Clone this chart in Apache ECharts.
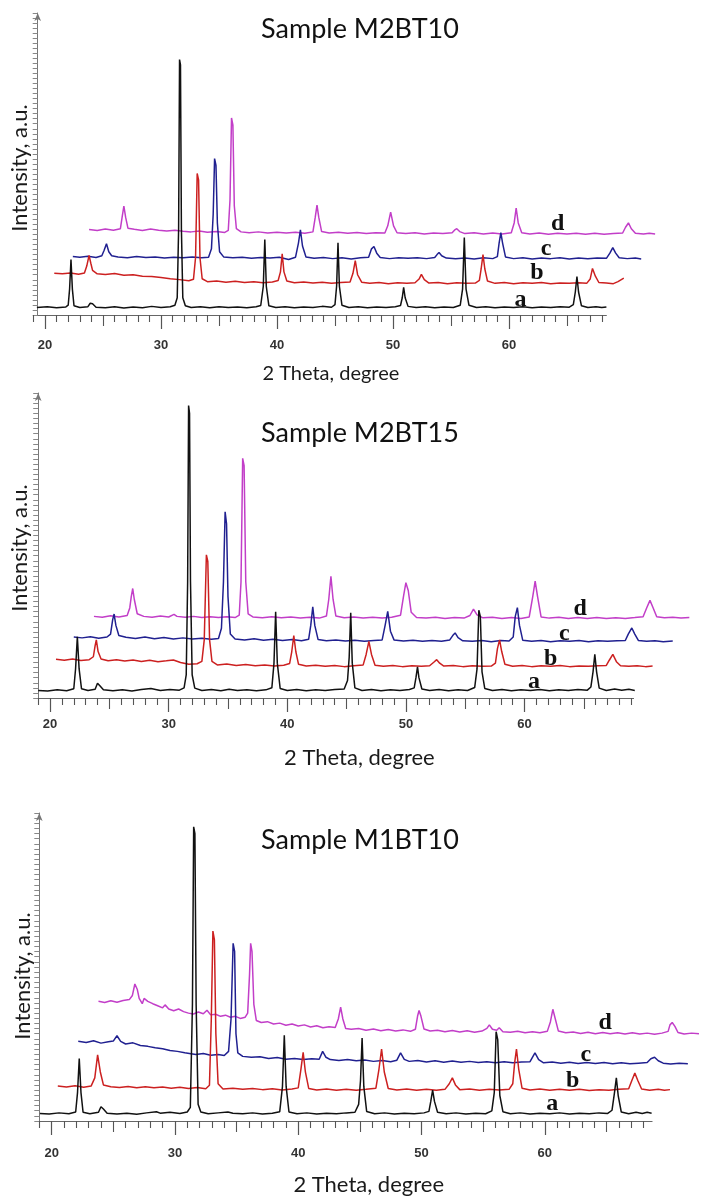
<!DOCTYPE html>
<html><head><meta charset="utf-8">
<script src="https://cdn.jsdelivr.net/npm/echarts@6/dist/echarts.min.js"></script>
<style>html,body{margin:0;padding:0;background:#fff}#c{width:702px;height:1197px}</style>
</head><body><div id="c"></div>
<script>
// ---------- data (2θ in degrees as plotted, intensity in arbitrary units) ----------
const panelTitles = ['Sample M2BT10', 'Sample M2BT15', 'Sample M1BT10'];
const traceNames = ['a', 'b', 'c', 'd'];
const xTickLabels = [20, 30, 40, 50, 60];
const xMidTicks = [25, 35, 45, 55, 65];

// Panel 1 : M2BT10
const m2bt10_a = [[19.3,2.6],[20.2,2.9],[21.0,2.5],[21.8,2.8],[22.0,3.4],[22.12,9],[22.24,19.3],[22.36,9],[22.5,3.2],[23.0,2.6],[23.7,2.9],[23.9,4.1],[24.1,3.9],[24.4,2.7],[25.2,2.5],[26.0,2.9],[26.8,2.4],[27.6,2.8],[28.4,2.5],[29.2,3.0],[30.0,2.6],[30.8,2.9],[31.2,3.4],[31.4,6],[31.52,30],[31.6,88.8],[31.68,87],[31.76,30],[31.88,6],[32.1,3.2],[32.6,2.6],[33.4,2.9],[34.2,2.5],[35.0,2.9],[35.8,2.6],[36.6,2.8],[37.4,2.5],[38.2,2.9],[38.6,3.3],[38.82,10],[38.95,26.2],[39.08,10],[39.3,3.2],[39.9,2.6],[40.7,2.9],[41.5,2.5],[42.3,2.8],[43.1,2.6],[43.9,3.0],[44.7,2.7],[45.0,3.6],[45.14,10],[45.26,25.1],[45.38,10],[45.6,3.4],[46.2,2.6],[47.0,2.9],[47.8,2.5],[48.6,2.8],[49.4,2.6],[50.2,2.9],[50.65,3.3],[50.8,6],[50.92,9.6],[51.05,6],[51.3,3.0],[52.0,2.6],[52.8,2.9],[53.6,2.5],[54.4,2.8],[55.2,2.6],[55.8,3.4],[56.0,9],[56.15,26.9],[56.3,9],[56.55,3.4],[57.2,2.6],[58.0,2.9],[58.8,2.5],[59.6,2.8],[60.4,2.6],[61.2,2.9],[62.0,2.5],[62.8,2.8],[63.6,2.6],[64.4,2.9],[65.2,2.7],[65.55,3.6],[65.72,8],[65.86,13.4],[66.0,8],[66.25,3.2],[66.8,2.6],[67.5,2.9],[68.0,2.6],[68.4,2.8]];
const m2bt10_b = [[20.8,14.5],[21.5,14.3],[22.2,14.6],[22.9,14.2],[23.4,14.6],[23.6,17],[23.8,20.7],[23.95,18],[24.1,15.5],[24.5,14.3],[25.2,14.1],[26.0,14.4],[26.8,13.8],[27.6,14.0],[28.4,13.5],[29.2,13.4],[30.0,13.0],[30.8,12.6],[31.6,12.3],[32.4,11.9],[32.8,12.4],[32.98,20],[33.12,49.2],[33.24,47],[33.36,20],[33.55,12.6],[34.0,11.6],[34.8,11.8],[35.6,11.4],[36.4,11.7],[37.2,11.3],[38.0,11.6],[38.8,11.2],[39.6,11.5],[40.1,12.0],[40.3,15],[40.45,21.3],[40.6,15],[40.85,11.8],[41.5,11.2],[42.3,11.5],[43.1,11.1],[43.9,11.4],[44.7,11.0],[45.5,11.3],[46.3,11.5],[46.55,14.5],[46.75,18.9],[46.95,14],[47.3,11.4],[48.0,11.0],[48.8,11.3],[49.6,10.9],[50.4,11.2],[51.2,11.0],[51.9,11.2],[52.25,12.5],[52.45,14.1],[52.7,12.3],[53.1,11.1],[53.9,11.3],[54.7,10.9],[55.5,11.2],[56.3,11.0],[57.1,11.1],[57.45,12],[57.6,16],[57.76,21],[57.92,16],[58.15,11.8],[58.8,11.0],[59.6,11.3],[60.4,10.9],[61.2,11.2],[62.0,11.0],[62.8,11.3],[63.6,10.9],[64.4,11.1],[65.2,11.0],[66.0,11.2],[66.7,11.0],[67.0,12.5],[67.2,16.2],[67.45,13.5],[67.75,11.3],[68.4,11.1],[69.0,10.9],[69.4,11.6],[69.9,12.8]];
const m2bt10_c = [[22.4,20.3],[23.0,20.1],[23.7,20.4],[24.4,20.0],[24.9,20.6],[25.1,22.5],[25.3,24.8],[25.5,22],[25.75,20.6],[26.3,20.2],[27.1,19.9],[27.9,20.3],[28.7,20.0],[29.5,20.2],[30.3,19.8],[31.1,20.1],[31.9,19.9],[32.7,20.2],[33.5,19.9],[34.1,20.1],[34.35,23],[34.5,35],[34.62,54.4],[34.74,52],[34.86,32],[35.05,22],[35.4,20.2],[36.2,19.9],[37.0,20.1],[37.8,19.7],[38.6,20.0],[39.4,19.8],[40.2,20.1],[41.0,19.3],[41.6,20.1],[41.85,25],[42.02,29.6],[42.2,24],[42.5,20.2],[43.2,19.7],[44.0,20.0],[44.8,19.6],[45.6,19.9],[46.4,19.5],[47.2,19.9],[47.9,20.1],[48.15,23],[48.36,23.8],[48.6,21.5],[48.9,20.0],[49.7,19.6],[50.5,19.9],[51.3,19.7],[52.1,19.9],[52.9,19.6],[53.6,20.0],[53.8,21],[53.97,21.7],[54.2,20.6],[54.6,19.8],[55.4,19.6],[56.2,19.8],[57.0,19.5],[57.8,19.9],[58.6,19.6],[59.0,20.3],[59.15,25],[59.3,28.6],[59.45,25],[59.7,20.2],[60.4,19.6],[61.2,19.9],[62.0,19.5],[62.8,19.8],[63.6,19.6],[64.4,19.9],[65.2,19.5],[66.0,19.8],[66.8,19.6],[67.6,19.8],[68.4,19.7],[68.7,21.5],[68.95,23.4],[69.2,21.5],[69.5,19.9],[70.2,19.6],[70.9,19.8],[71.4,19.5]];
const m2bt10_d = [[23.8,29.7],[24.5,29.4],[25.2,29.9],[25.9,29.5],[26.5,30.0],[26.65,34],[26.8,37.9],[26.95,34],[27.15,30.2],[27.7,29.8],[28.4,29.4],[29.1,29.9],[29.8,29.5],[30.5,29.2],[31.2,29.5],[31.9,29.1],[32.6,28.9],[33.3,29.2],[34.0,28.8],[34.8,29.0],[35.5,28.7],[35.8,29.4],[35.95,40],[36.08,68.5],[36.2,66],[36.32,38],[36.5,30],[36.9,28.9],[37.6,28.6],[38.4,28.9],[39.2,28.5],[40.0,28.8],[40.8,28.5],[41.6,28.8],[42.4,28.4],[43.1,28.9],[43.3,34],[43.45,38.2],[43.6,34],[43.85,29.0],[44.5,28.5],[45.3,28.8],[46.1,28.4],[46.9,28.7],[47.7,28.3],[48.5,28.6],[49.3,28.5],[49.55,31],[49.8,35.8],[50.05,31],[50.35,28.6],[51.1,28.3],[51.9,28.6],[52.7,28.2],[53.5,28.5],[54.3,28.3],[55.1,28.6],[55.3,29.5],[55.5,30.0],[55.75,29.0],[56.2,28.3],[57.0,28.6],[57.8,28.2],[58.6,28.5],[59.4,28.2],[60.2,28.6],[60.45,32],[60.62,37.2],[60.8,32],[61.1,28.6],[61.8,28.2],[62.6,28.5],[63.4,28.1],[64.2,28.4],[65.0,28.2],[65.8,28.4],[66.6,28.1],[67.4,28.4],[68.2,28.1],[69.0,28.3],[69.8,28.5],[70.05,30.5],[70.3,32],[70.55,30],[70.9,28.4],[71.6,28.2],[72.1,28.4],[72.6,28.2]];

// Panel 2 : M2BT15
const m2bt15_a = [[19.0,2.6],[19.8,2.4],[20.6,2.8],[21.4,2.5],[22.0,3.2],[22.15,10],[22.3,21.1],[22.45,10],[22.65,3.2],[23.2,2.6],[23.8,3.0],[24.0,5.1],[24.2,4.2],[24.5,2.8],[25.3,2.5],[26.1,2.8],[26.9,2.4],[27.7,2.9],[28.5,3.3],[29.3,2.6],[30.1,2.9],[30.9,2.7],[31.3,3.5],[31.48,8],[31.6,40],[31.68,100.7],[31.76,98],[31.84,40],[31.98,8],[32.2,3.4],[32.8,2.6],[33.6,2.9],[34.4,2.5],[35.1,3.0],[35.8,2.6],[36.6,2.8],[37.4,2.5],[38.2,2.8],[38.7,3.5],[38.88,12],[39.02,29.7],[39.16,12],[39.4,3.3],[40.0,2.6],[40.8,2.9],[41.6,2.5],[42.4,2.8],[43.2,2.6],[44.0,2.9],[44.8,3.1],[45.08,6],[45.22,14],[45.35,29.3],[45.48,12],[45.7,3.5],[46.3,2.6],[47.1,2.9],[47.9,2.5],[48.7,2.8],[49.5,2.6],[50.3,2.9],[50.7,3.5],[50.85,7],[50.98,10.7],[51.1,7],[51.35,3.1],[52.0,2.6],[52.8,2.9],[53.6,2.5],[54.4,2.8],[55.2,2.6],[55.8,3.6],[56.0,10],[56.15,30.2],[56.28,28],[56.42,9],[56.65,3.3],[57.3,2.6],[58.1,2.9],[58.9,2.5],[59.7,2.8],[60.5,2.6],[61.3,2.9],[62.1,2.5],[62.9,2.8],[63.7,2.6],[64.5,2.9],[65.3,2.7],[65.6,3.8],[65.78,9],[65.93,15],[66.08,9],[66.3,3.4],[66.9,2.6],[67.6,3.1],[68.2,2.7],[68.8,3.0],[69.3,2.6]];
const m2bt15_b = [[20.5,13.3],[21.2,13.0],[21.9,13.4],[22.6,12.9],[23.3,13.2],[23.65,14.2],[23.8,18],[23.9,20],[24.05,16],[24.3,13.4],[24.9,12.8],[25.6,13.2],[26.3,12.7],[27.0,13.1],[27.7,12.6],[28.4,13.0],[29.1,12.5],[29.8,12.8],[30.4,13.1],[31.0,12.2],[31.7,11.6],[32.4,11.8],[32.8,12.6],[33.0,20],[33.18,49.3],[33.3,47],[33.45,20],[33.65,12.6],[34.1,11.4],[34.9,11.7],[35.7,11.2],[36.5,11.5],[37.3,11.1],[38.1,11.4],[38.9,11.0],[39.7,11.3],[40.2,11.9],[40.38,16],[40.55,21.5],[40.72,16],[40.95,11.6],[41.6,11.0],[42.4,11.3],[43.2,10.9],[44.0,11.2],[44.8,10.8],[45.6,11.1],[46.4,11.4],[46.65,15],[46.88,19.5],[47.1,15],[47.4,11.3],[48.1,10.9],[48.9,11.2],[49.7,10.8],[50.5,11.1],[51.3,10.9],[52.0,11.1],[52.35,12.3],[52.6,13.2],[52.85,12],[53.2,11.0],[54.0,11.2],[54.8,10.8],[55.6,11.1],[56.4,10.9],[57.2,11.0],[57.55,12],[57.72,17],[57.9,20],[58.08,16],[58.35,11.6],[59.0,10.9],[59.8,11.2],[60.6,10.8],[61.4,11.1],[62.2,10.9],[63.0,11.2],[63.8,10.8],[64.6,11.0],[65.4,10.9],[66.2,11.1],[66.9,11.2],[67.15,13],[67.45,15],[67.75,12.5],[68.1,11.1],[68.8,10.9],[69.5,11.1],[70.2,10.8],[70.8,11.0]];
const m2bt15_c = [[22.0,21.0],[22.7,20.7],[23.4,21.1],[24.1,20.6],[24.8,21.0],[25.1,22],[25.28,27],[25.4,28.9],[25.55,25],[25.8,21.5],[26.4,20.9],[27.2,20.5],[28.0,21.0],[28.8,20.4],[29.6,20.8],[30.4,20.3],[31.2,20.7],[32.0,20.3],[32.8,20.6],[33.6,20.2],[34.2,20.5],[34.45,24],[34.62,40],[34.76,64.1],[34.88,60],[35.0,35],[35.2,22],[35.6,20.3],[36.4,20.0],[37.2,20.4],[38.0,19.9],[38.8,20.2],[39.6,19.8],[40.4,20.1],[41.2,19.7],[41.8,20.2],[41.98,25],[42.15,31.4],[42.32,25],[42.6,20.1],[43.3,19.7],[44.1,20.0],[44.9,19.6],[45.7,19.9],[46.5,19.5],[47.3,19.8],[48.0,20.0],[48.25,25],[48.47,29.8],[48.7,23],[49.0,20.0],[49.8,19.6],[50.6,19.9],[51.4,19.5],[52.2,19.8],[53.0,19.5],[53.7,20.0],[53.95,21.5],[54.15,22.4],[54.4,20.8],[54.8,19.7],[55.6,19.5],[56.4,19.8],[57.2,19.4],[58.0,19.8],[58.7,19.6],[59.05,21],[59.22,28],[59.4,31.1],[59.58,25],[59.85,19.9],[60.6,19.5],[61.4,19.8],[62.2,19.4],[63.0,19.7],[63.8,19.5],[64.6,19.8],[65.4,19.4],[66.2,19.7],[67.0,19.5],[67.8,19.7],[68.5,19.8],[68.75,22],[69.05,24.1],[69.3,22],[69.6,19.8],[70.3,19.5],[71.0,19.7],[71.7,19.4],[72.5,19.6]];
const m2bt15_d = [[23.7,28.1],[24.4,27.8],[25.1,28.3],[25.8,27.9],[26.5,28.4],[26.72,31],[26.85,35],[26.97,37.7],[27.1,34],[27.35,29],[27.9,28.1],[28.6,27.8],[29.3,28.2],[30.0,27.9],[30.45,28.8],[30.7,28.1],[31.4,27.8],[32.1,28.1],[32.8,27.7],[33.5,28.0],[34.2,27.7],[34.9,28.0],[35.6,27.7],[35.95,28.5],[36.1,40],[36.24,82.5],[36.36,80],[36.5,40],[36.7,29],[37.1,27.9],[37.9,27.6],[38.7,28.0],[39.5,27.6],[40.3,27.9],[41.1,27.5],[41.9,27.8],[42.7,27.5],[43.3,28.2],[43.5,34],[43.68,41.9],[43.86,34],[44.1,28.2],[44.8,27.6],[45.6,27.9],[46.4,27.5],[47.2,27.8],[48.0,27.5],[48.8,27.8],[49.55,28.5],[49.8,35],[50.0,39.7],[50.2,37],[50.45,29.5],[50.9,27.7],[51.7,27.5],[52.5,27.8],[53.3,27.4],[54.1,27.7],[54.9,27.5],[55.4,28.4],[55.7,30.6],[56.0,28.6],[56.5,27.6],[57.3,27.8],[58.1,27.4],[58.9,27.7],[59.7,27.4],[60.4,27.9],[60.7,35],[60.9,40.2],[61.1,35],[61.4,27.9],[62.1,27.5],[62.9,27.8],[63.7,27.4],[64.5,27.7],[65.3,27.4],[66.1,27.7],[66.9,27.4],[67.7,27.6],[68.5,27.4],[69.3,27.7],[70.0,28.0],[70.3,31],[70.58,33.6],[70.85,31],[71.15,28.0],[71.8,27.6],[72.5,27.8],[73.2,27.5],[73.9,27.7]];

// Panel 3 : M1BT10
const m1bt10_a = [[19.05,2.9],[19.8,2.7],[20.6,3.1],[21.4,2.8],[21.95,3.4],[22.1,10],[22.24,21.6],[22.38,10],[22.55,3.3],[23.1,2.8],[23.8,3.3],[24.0,5.2],[24.2,4.4],[24.5,3.0],[25.3,2.7],[26.1,3.0],[26.9,2.6],[27.7,3.1],[28.5,3.5],[28.8,3.0],[29.6,3.3],[30.4,2.9],[31.0,3.4],[31.25,5],[31.42,40],[31.52,100.3],[31.62,98],[31.72,40],[31.88,6],[32.1,3.4],[32.7,2.8],[33.5,3.1],[34.3,3.4],[34.7,3.0],[35.5,2.8],[36.3,3.1],[37.1,2.7],[37.9,3.0],[38.5,3.5],[38.72,12],[38.87,29.5],[39.02,12],[39.25,3.4],[39.9,2.8],[40.7,3.1],[41.5,2.7],[42.3,3.0],[43.1,2.8],[43.9,3.1],[44.6,3.3],[44.9,6],[45.05,14],[45.18,28.5],[45.32,12],[45.55,3.6],[46.2,2.8],[47.0,3.1],[47.8,2.7],[48.6,3.0],[49.4,2.8],[50.2,3.1],[50.6,3.6],[50.75,7],[50.9,10.8],[51.05,7],[51.3,3.3],[52.0,2.8],[52.8,3.1],[53.6,2.7],[54.4,3.0],[55.2,2.8],[55.7,3.8],[55.9,10],[56.05,30.7],[56.18,28],[56.35,9],[56.6,3.5],[57.2,2.8],[58.0,3.1],[58.8,2.7],[59.6,3.0],[60.4,2.8],[61.2,3.1],[62.0,2.7],[62.8,3.0],[63.6,2.8],[64.4,3.1],[65.1,2.9],[65.45,4],[65.65,10],[65.8,15],[65.95,9],[66.2,3.4],[66.8,2.8],[67.4,3.3],[67.9,2.9],[68.3,3.3],[68.66,3.0]];
const m1bt10_b = [[20.5,12.2],[21.2,11.9],[21.9,12.3],[22.6,11.8],[23.2,12.2],[23.5,15],[23.73,22.8],[23.95,17],[24.2,12.6],[24.8,12.0],[25.5,11.7],[26.2,12.1],[26.9,11.6],[27.6,12.0],[28.3,11.6],[29.0,11.9],[29.7,11.5],[30.4,11.8],[31.1,11.4],[31.8,11.7],[32.5,11.3],[32.8,12.5],[32.95,35],[33.08,64.9],[33.2,62],[33.32,30],[33.5,13],[33.9,11.2],[34.7,11.5],[35.5,11.1],[36.3,11.4],[37.1,11.0],[37.9,11.3],[38.7,10.9],[39.5,11.2],[40.0,11.6],[40.22,18],[40.4,23.7],[40.58,17],[40.85,11.4],[41.5,10.9],[42.3,11.2],[43.1,10.8],[43.9,11.1],[44.7,10.8],[45.5,11.1],[46.3,11.5],[46.55,18],[46.76,24.8],[46.98,17],[47.3,11.4],[48.0,10.9],[48.8,11.2],[49.6,10.8],[50.4,11.1],[51.2,10.8],[51.9,11.1],[52.25,13],[52.5,15],[52.75,12.6],[53.1,11.0],[53.9,11.2],[54.7,10.8],[55.5,11.1],[56.3,10.9],[57.1,11.1],[57.4,13],[57.55,20],[57.7,24.8],[57.88,18],[58.15,11.5],[58.8,10.9],[59.6,11.2],[60.4,10.8],[61.2,11.1],[62.0,10.8],[62.8,11.1],[63.6,10.7],[64.4,11.0],[65.2,10.8],[66.0,11.1],[66.8,11.3],[67.05,14],[67.3,16.6],[67.55,14],[67.85,11.2],[68.5,10.8],[69.2,11.1],[69.7,10.8],[70.15,11.0]];
const m1bt10_c = [[22.16,27.4],[22.8,27.0],[23.4,27.6],[24.0,26.8],[24.6,27.3],[25.0,27.5],[25.3,29.3],[25.6,27.4],[26.0,26.5],[26.6,26.9],[27.2,26.0],[27.8,25.7],[28.4,25.2],[29.0,24.9],[29.6,24.3],[30.2,24.0],[30.8,23.5],[31.3,23.2],[31.7,22.9],[32.3,23.3],[32.9,22.7],[33.5,22.9],[34.0,22.6],[34.35,24],[34.55,35],[34.72,60.7],[34.84,58],[34.95,30],[35.1,23.5],[35.5,22.3],[36.2,22.0],[36.9,22.2],[37.6,21.6],[38.3,21.9],[39.0,21.3],[39.7,21.6],[40.4,21.2],[41.1,21.5],[41.7,21.3],[41.98,24],[42.25,22],[42.6,21.2],[43.3,20.9],[44.0,21.2],[44.7,20.8],[45.4,21.1],[46.1,20.6],[46.8,20.9],[47.5,20.5],[48.0,21.0],[48.3,23.5],[48.6,21.3],[49.0,20.6],[49.7,20.9],[50.4,20.4],[51.1,20.8],[51.8,20.3],[52.5,20.7],[53.2,20.3],[53.9,20.6],[54.6,20.2],[55.3,20.5],[56.0,20.1],[56.7,20.5],[57.4,20.1],[58.1,20.4],[58.8,20.5],[59.2,23.5],[59.5,21.2],[59.9,20.1],[60.6,20.4],[61.3,20.0],[62.0,20.3],[62.7,19.9],[63.4,20.2],[64.1,19.9],[64.8,20.2],[65.5,19.8],[66.2,20.1],[66.9,19.8],[67.6,20.0],[68.3,20.2],[68.6,21.5],[68.9,22],[69.2,20.8],[69.6,20.0],[70.2,19.7],[70.9,20.0],[71.6,19.8]];
const m1bt10_d = [[23.8,41.0],[24.3,40.6],[24.8,41.2],[25.3,40.7],[25.8,41.3],[26.3,41.6],[26.55,43],[26.75,46.9],[26.95,45],[27.1,42],[27.35,40.2],[27.5,42],[27.8,41],[28.2,40.2],[28.6,39.5],[29.0,38.8],[29.2,39.8],[29.5,38.4],[29.9,37.8],[30.3,38.4],[30.7,37.5],[31.1,37.0],[31.5,36.7],[31.9,37.4],[32.3,36.8],[32.6,38],[32.9,36.4],[33.3,36.6],[33.7,35.9],[34.1,36.3],[34.5,35.6],[34.9,35.9],[35.3,35.2],[35.7,35.6],[35.9,37],[36.05,50],[36.14,60.7],[36.25,58],[36.4,40],[36.6,34.5],[37.0,33.8],[37.5,34.1],[38.0,33.3],[38.5,33.6],[39.0,32.9],[39.5,33.3],[40.0,32.6],[40.5,33.0],[41.0,32.3],[41.5,32.7],[42.0,32.0],[42.5,32.4],[43.0,32.1],[43.25,35],[43.44,39],[43.62,35],[43.85,31.8],[44.3,31.5],[44.9,31.8],[45.5,31.2],[46.1,31.6],[46.7,31.0],[47.3,31.4],[47.9,30.9],[48.5,31.3],[49.1,30.8],[49.5,31.5],[49.68,36],[49.8,37.9],[49.95,36],[50.2,31.6],[50.7,30.9],[51.3,31.2],[51.9,30.7],[52.5,31.1],[53.1,30.6],[53.7,31.0],[54.3,30.5],[54.9,30.9],[55.3,31.8],[55.5,33],[55.75,31.5],[56.1,31.2],[56.3,32],[56.6,30.7],[57.2,30.5],[57.8,30.8],[58.4,30.3],[59.0,30.7],[59.6,30.3],[60.2,30.8],[60.45,34],[60.65,38.3],[60.85,35],[61.1,30.9],[61.7,30.3],[62.3,30.6],[62.9,30.1],[63.5,30.5],[64.1,30.0],[64.7,30.4],[65.3,30.0],[65.9,30.3],[66.5,29.9],[67.1,30.3],[67.7,29.9],[68.3,30.2],[68.9,29.8],[69.5,30.2],[70.0,30.8],[70.15,33],[70.33,33.8],[70.55,32.5],[70.8,30.4],[71.3,29.9],[71.9,30.2],[72.5,30.0]];

// curve-letter annotations: [2θ, intensity] where each letter sits
const m2bt10_letters = [[61.0,5.2],[62.4,14.5],[63.2,23.1],[64.2,31.7]];
const m2bt15_letters = [[60.8,5.5],[62.2,13.6],[63.35,22.2],[64.7,30.7]];
const m1bt10_letters = [[60.6,6.1],[62.25,13.9],[63.33,22.9],[64.9,33.8]];

// ---------- layout & style ----------
const panelData = [
  [m2bt10_a, m2bt10_b, m2bt10_c, m2bt10_d],
  [m2bt15_a, m2bt15_b, m2bt15_c, m2bt15_d],
  [m1bt10_a, m1bt10_b, m1bt10_c, m1bt10_d]
];
const panelLetters = [m2bt10_letters, m2bt15_letters, m1bt10_letters];
const colors = ['#111111', '#cc2020', '#202090', '#c23ec8'];
const layout = [
  {left: 33.4, top: 13, width: 573, height: 302, xmax: 68.4, yOff: -4.3, labMargin: 24, nameGap: 49, nameFs: 20, namePad: 22, yPad: 8, yGap: 7, titleY: 16},
  {left: 38.2, top: 393, width: 595.4, height: 305, xmax: 69.2, yOff: 0, labMargin: 20, nameGap: 49, nameFs: 22, namePad: 47, yPad: 5, yGap: 7, titleY: 420},
  {left: 39.3, top: 813, width: 612.8, height: 309, xmax: 68.7, yOff: 0, labMargin: 26, nameGap: 53, nameFs: 22, namePad: 46, yPad: 18, yGap: 5, titleY: 827}
];
const XMIN = 19, YMAX = 105, PLANE_RIGHT = 701;

const grids = [], xAxes = [], yAxes = [], series = [], graphics = [];
// visible axis frames
layout.forEach((L, p) => {
  grids.push({left: L.left, top: L.top, width: L.width, height: L.height, containLabel: false});
  const minor = [];
  for (let v = XMIN; v <= Math.floor(L.xmax); v++) if (v % 5 !== 0) minor.push(v);
  const base = {gridIndex: p, type: 'value', min: XMIN, max: L.xmax, position: 'bottom', offset: 0,
                splitLine: {show: false}};
  xAxes.push(Object.assign({}, base, {
    axisLine: {show: true, lineStyle: {color: '#666', width: 1}},
    axisTick: {show: true, customValues: xTickLabels, length: 14, lineStyle: {color: '#555', width: 1.2}},
    axisLabel: {show: true, customValues: xTickLabels, margin: L.labMargin, fontSize: 13, fontWeight: 'bold',
                color: '#333', fontFamily: 'Liberation Sans'},
    name: '2 Theta, degree', nameLocation: 'middle', nameGap: L.nameGap,
    nameTextStyle: {fontFamily: 'Lato', fontSize: L.nameFs, color: '#1a1a1a', padding: [0, 0, 0, L.namePad]}
  }));
  xAxes.push(Object.assign({}, base, {
    axisLine: {show: false},
    axisTick: {show: true, customValues: xMidTicks, length: 11, lineStyle: {color: '#555', width: 1.1}},
    axisLabel: {show: false}
  }));
  xAxes.push(Object.assign({}, base, {
    axisLine: {show: false},
    axisTick: {show: true, customValues: minor, length: 7, lineStyle: {color: '#555', width: 1.1}},
    axisLabel: {show: false}
  }));
  yAxes.push({
    gridIndex: p, type: 'value', min: 0, max: YMAX, interval: 1.75, position: 'left', offset: L.yOff,
    axisLine: {show: true, symbol: ['none', 'arrow'], symbolSize: [5, 8], lineStyle: {color: '#777', width: 1}},
    axisTick: {show: true, length: 5, lineStyle: {color: '#888', width: 1}},
    axisLabel: {show: false}, splitLine: {show: false},
    name: 'Intensity, a.u.', nameLocation: 'middle', nameRotate: 90, nameGap: L.yGap,
    nameTextStyle: {fontFamily: 'Lato', fontSize: 22, color: '#1a1a1a', padding: [0, L.yPad, 0, 0]}
  });
  graphics.push({type: 'text', x: 360, y: L.titleY, silent: true,
    style: {text: panelTitles[p], textAlign: 'center', textVerticalAlign: 'top',
            font: '27px Lato', fill: '#111'}});
});
// data planes: same pixel scale as the visible frames, extended to the right (within the page)
// so that the offset traces can run past the end of the drawn axis, as in the original
layout.forEach((L, p) => {
  const pxPerDeg = L.width / (L.xmax - XMIN);
  const planeWidth = PLANE_RIGHT - L.left;
  const g = grids.length;
  grids.push({left: L.left, top: L.top, width: planeWidth, height: L.height, containLabel: false});
  const xi = xAxes.length, yi = yAxes.length;
  xAxes.push({gridIndex: g, type: 'value', min: XMIN, max: XMIN + planeWidth / pxPerDeg, show: false});
  yAxes.push({gridIndex: g, type: 'value', min: 0, max: YMAX, show: false});
  for (let t = 3; t >= 0; t--) {
    const pos = panelLetters[p][t];
    series.push({
      name: panelTitles[p] + ' ' + traceNames[t], type: 'line',
      xAxisIndex: xi, yAxisIndex: yi, data: panelData[p][t],
      symbol: 'none', showSymbol: false, silent: true,
      lineStyle: {color: colors[t], width: 1.5}, z: 2 + (3 - t),
      markPoint: {symbol: 'circle', symbolSize: 0, silent: true,
        data: [{coord: pos, value: traceNames[t]}],
        label: {show: true, position: 'inside', formatter: traceNames[t], color: '#111',
                fontFamily: 'Liberation Serif', fontWeight: 'bold', fontSize: 24}}
    });
  }
});

const chart = echarts.init(document.getElementById('c'), null, {renderer: 'canvas'});
chart.setOption({
  backgroundColor: '#fff',
  animation: false,
  grid: grids, xAxis: xAxes, yAxis: yAxes, series: series, graphic: graphics
});
</script></body></html>
